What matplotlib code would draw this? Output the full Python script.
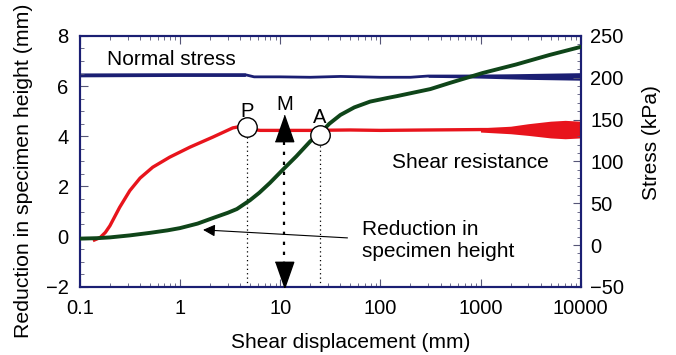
import numpy as np
import matplotlib.pyplot as plt
from matplotlib.ticker import MultipleLocator, FixedLocator, LogLocator, NullFormatter

plt.rcParams['font.family'] = ['Liberation Sans', 'DejaVu Sans']
plt.rcParams['font.size'] = 14.5

# desplazamiento (mm) y reduccion de altura (mm), eje izquierdo
x_altura = [0.1, 0.15, 0.2, 0.316, 0.5, 0.75, 1.0, 1.5, 2.13, 3.0, 3.7, 5.0, 6.2, 7.9, 10.6,
            14.5, 20, 24.8, 31, 40, 55, 79, 116, 147, 316, 490, 1050, 2270, 4900, 10000]
altura = [-0.08, -0.06, -0.03, 0.05, 0.15, 0.25, 0.34, 0.52, 0.74, 0.95, 1.1, 1.45, 1.75, 2.14, 2.66,
          3.2, 3.8, 4.1, 4.5, 4.85, 5.15, 5.38, 5.52, 5.6, 5.88, 6.12, 6.52, 6.86, 7.24, 7.56]

# resistencia al corte (kPa), eje derecho
x_corte = [0.14, 0.16, 0.18, 0.2, 0.25, 0.316, 0.4, 0.535, 0.79, 1.26, 2.13, 3.37, 4.6, 5.5,
           6.3, 10, 20, 50, 100, 300, 1000, 3000, 10000]
corte = [6, 9, 15, 23, 45, 65, 80, 93, 105, 117, 129, 140, 143, 138,
         137, 137, 137, 137.5, 137, 137.5, 138, 138, 138]
x_corte_ruido = [1000, 2000, 3000, 5000, 7000, 10000]
corte_bajo = [135, 133, 131, 128, 127, 128]
corte_alto = [140, 142, 145, 148, 149, 148]

# esfuerzo normal (kPa)
x_normal = [0.1, 1.0, 4.5, 5.5, 10, 20, 40, 100, 200, 300, 1000, 3000, 10000]
normal = [203, 203.5, 203.5, 201, 201, 200.5, 201.5, 200.5, 200.5, 202, 202, 201.5, 201.5]
x_normal_ruido = [0.1, 1.0, 4.5, 300, 1000, 3000, 10000]
normal_bajo = [201, 201.5, 201.5, 200.5, 199.5, 198, 197]
normal_alto = [205.5, 205.5, 205.5, 203.5, 204, 205, 206]

# puntos P, M, A
x_P, y_P, y_P_texto = 4.7, 4.37, 4.98
x_M, y_M_arriba, y_M_abajo, y_M_texto = 11, 4.33, -1.52, 5.25
x_A, y_A, y_A_texto = 24.8, 4.06, 4.73

azul = '#1b1f73'
rojo = '#e8141c'
verde = '#0f4519'

fig = plt.figure(figsize=(6.76, 3.55), dpi=100)
ax = fig.add_axes([0.118, 0.192, 0.741, 0.707])
ax2 = ax.twinx()

ax2.plot(x_normal, normal, color=azul, lw=2)
ax2.fill_between(x_normal_ruido[:3], normal_bajo[:3], normal_alto[:3], color=azul, lw=0)
ax2.fill_between(x_normal_ruido[3:], normal_bajo[3:], normal_alto[3:], color=azul, lw=0)
ax2.plot(x_corte, corte, color=rojo, lw=2.4)
ax2.fill_between(x_corte_ruido, corte_bajo, corte_alto, color=rojo, lw=0)

ax.plot(x_altura, altura, color=verde, lw=2.8, zorder=3)

ax.set_zorder(ax2.get_zorder() + 1)
ax.patch.set_visible(False)

# lineas verticales punteadas
ax.plot([x_P, x_P], [-2, y_P], color='black', ls=(0, (1, 2.5)), lw=0.9)
ax.plot([x_A, x_A], [-2, y_A], color='black', ls=(0, (1, 2.5)), lw=0.9)
ax.plot([x_M, x_M], [y_M_abajo, y_M_arriba], color='black', ls=(0, (1.5, 3)), lw=1.6)
triangulo = [(-0.7, -1), (0.7, -1), (0, 1)]
triangulo_abajo = [(-0.7, 1), (0.7, 1), (0, -1)]
ax.plot(x_M, y_M_arriba, marker=triangulo, ms=19, color='black', zorder=5)
ax.plot(x_M, y_M_abajo, marker=triangulo_abajo, ms=19, color='black', zorder=5)

ax.text(x_P, y_P_texto, 'P', ha='center', va='center', zorder=4)
ax.text(x_M, y_M_texto, 'M', ha='center', va='center')
ax.text(x_A, y_A_texto, 'A', ha='center', va='center', zorder=4)
ax.plot([x_P, x_A], [y_P, y_A], ls='none', marker='o', ms=14, mfc='white',
        mec='black', mew=1, zorder=6)

ax.text(0.186, 7.04, 'Normal stress', va='center', fontsize=15)
ax.text(132, 2.94, 'Shear resistance', va='center', fontsize=15)
ax.text(66, -0.15, 'Reduction in\nspecimen height', va='center', linespacing=1.15, fontsize=15)
ax.annotate('', xy=(1.7, 0.27), xytext=(47, -0.05),
            arrowprops=dict(arrowstyle='-|>', color='black', lw=0.8,
                            mutation_scale=18, shrinkA=0, shrinkB=0))

ax.set_xscale('log')
ax.set_xlim(0.1, 10000)
ax.set_ylim(-2, 8)
ax2.set_ylim(-50, 250)
ax.xaxis.set_major_locator(FixedLocator([0.1, 1, 10, 100, 1000, 10000]))
ax.set_xticklabels(['0.1', '1', '10', '100', '1000', '10000'])
ax.xaxis.set_minor_locator(LogLocator(base=10, subs=np.arange(2, 10), numticks=20))
ax.xaxis.set_minor_formatter(NullFormatter())
ax.yaxis.set_major_locator(MultipleLocator(2))
ax.yaxis.set_minor_locator(MultipleLocator(0.5))
ax2.yaxis.set_major_locator(MultipleLocator(50))
ax2.yaxis.set_minor_locator(MultipleLocator(10))

ax.tick_params(which='both', direction='in', top=True, colors='#555577', labelcolor='black')
ax.tick_params(which='major', length=6)
ax.tick_params(which='minor', length=3)
ax.tick_params(axis='x', pad=9)
ax.tick_params(axis='y', pad=8)
ax2.tick_params(which='both', direction='in', colors='#555577', labelcolor='black')
ax2.tick_params(which='major', length=6, pad=7)
ax2.tick_params(which='minor', length=3)
for a in (ax, ax2):
    for s in a.spines.values():
        s.set_color(azul)
        s.set_linewidth(1.5)

ax.set_xlabel('Shear displacement (mm)', fontsize=15)
ax.set_ylabel('Reduction in specimen height (mm)', fontsize=15.3)
ax2.set_ylabel('Stress (kPa)', fontsize=15)
ax.xaxis.set_label_coords(0.541, -0.185)
ax.yaxis.set_label_coords(-0.094, 0.462)
ax2.yaxis.set_label_coords(1.122, 0.574)

fig.savefig('out.png', dpi=100)
